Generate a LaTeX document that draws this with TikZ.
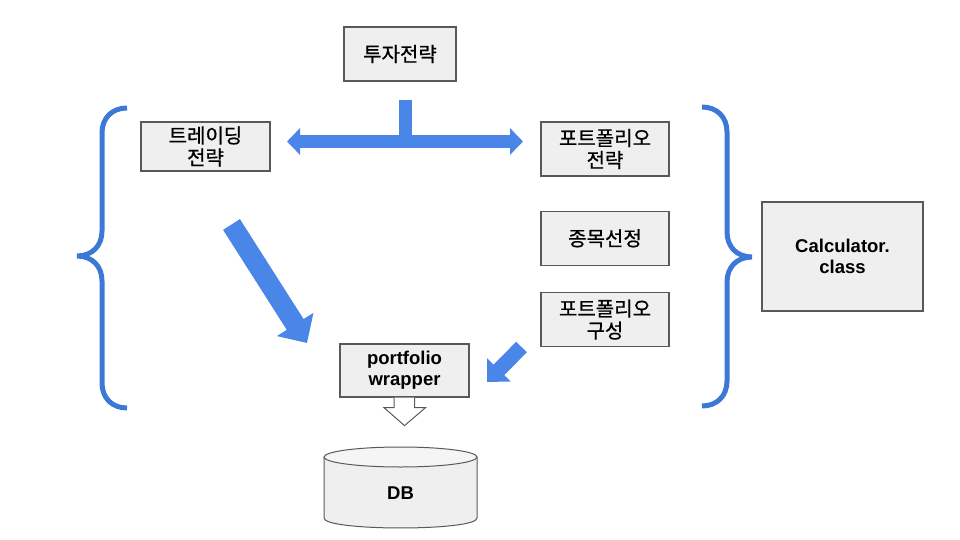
\documentclass[tikz,border=0pt]{standalone}
\usepackage{fontspec}
\setmainfont{Liberation Sans}
\newfontfamily\kr[FakeBold=0.6]{Noto Sans CJK KR}
\usetikzlibrary{positioning,arrows.meta}

\definecolor{boxfill}{HTML}{EFEFEF}
\definecolor{boxline}{HTML}{595959}
\definecolor{arrowblue}{HTML}{4A86E8}
\definecolor{braceblue}{HTML}{3C78D8}

\tikzset{
    box/.style={draw=boxline, fill=boxfill, line width=1.3pt, inner sep=0pt, align=center, font=\kr\fontsize{20}{22}\selectfont},
    en/.style={font=\bfseries\fontsize{18.5}{21}\selectfont},
    fat/.style={draw=arrowblue, line width=13pt},
    brace/.style={draw=braceblue, line width=5pt},
}

\begin{document}
\begin{tikzpicture}[x=1pt,y=-1pt]
    \useasboundingbox (0,0) rectangle (960,540);
    \node (invest) [box, minimum width=112pt, minimum height=54pt] at (400,54) {투자전략};
    \node (trading) [box, minimum width=129pt, minimum height=49pt] at (205.5,146.5) {트레이딩\\전략};
    \node (pstrategy) [box, minimum width=128pt, minimum height=54pt] at (605,149) {포트폴리오\\전략};
    \node (select) [box, minimum width=128pt, minimum height=54pt, below=34pt of pstrategy] {종목선정};
    \node (compose) [box, minimum width=128pt, minimum height=54pt, below=26pt of select] {포트폴리오\\구성};
    \node (calc) [box, en, minimum width=161pt, minimum height=109pt] at (842.5,256.5) {Calculator.\\class};
    \node (wrapper) [box, en, minimum width=129pt, minimum height=53pt] at (404.5,370.5) {portfolio\\wrapper};

    % DB cylinder
    \filldraw [fill=boxfill, draw=boxline, line width=1pt] (324,457) -- (324,518) .. controls (324,531.3) and (477,531.3) .. (477,518) -- (477,457);
    \filldraw [fill=boxfill!60!white, draw=boxline, line width=1pt] (400.5,457) ellipse [x radius=76.5, y radius=10];
    \node (db) [en] at (400.5,493) {DB};

    % hollow arrow to DB
    \filldraw [fill=white, draw=boxline, line width=1pt] (wrapper.south) ++(-10.5,0) -- ++(0,10) -- ++(-10,0) -- ++(20.5,18) -- ++(21,-18) -- ++(-11,0) -- ++(0,-10);

    % blue arrows
    \coordinate (stem) at (405.5,100);
    \coordinate (junc) at (405.5,141.5);
    \coordinate (tleft) at (287,141.5);
    \coordinate (tright) at (523,141.5);
    \draw [fat] (stem) -- (junc);
    \draw [fat, {Triangle[width=26pt,length=13pt]}-{Triangle[width=26pt,length=13pt]}] (tleft) -- (tright);
    \coordinate (bigtail) at (231.5,224.5);
    \coordinate (bigtip) at (307,343);
    \draw [fat, line width=20pt, -{Triangle[width=42pt,length=22pt]}] (bigtail) -- (bigtip);
    \coordinate (smalltail) at (521.5,347);
    \coordinate (smalltip) at (487,382);
    \draw [fat, line width=15pt, -{Triangle[width=32pt,length=17pt]}] (smalltail) -- (smalltip);

    % braces
    \draw [brace] (127,108) .. controls (112,108) and (102,118) .. (102,133) -- (102,231)
        .. controls (102,246) and (92,256) .. (77,256) .. controls (92,256) and (102,266) .. (102,281)
        -- (102,383) .. controls (102,398) and (112,408) .. (127,408);
    \draw [brace] (702,107) .. controls (717,107) and (727,117) .. (727,132) -- (727,232)
        .. controls (727,247) and (737,257) .. (752,257) .. controls (737,257) and (727,267) .. (727,282)
        -- (727,381) .. controls (727,396) and (717,406) .. (702,406);
\end{tikzpicture}
\end{document}
